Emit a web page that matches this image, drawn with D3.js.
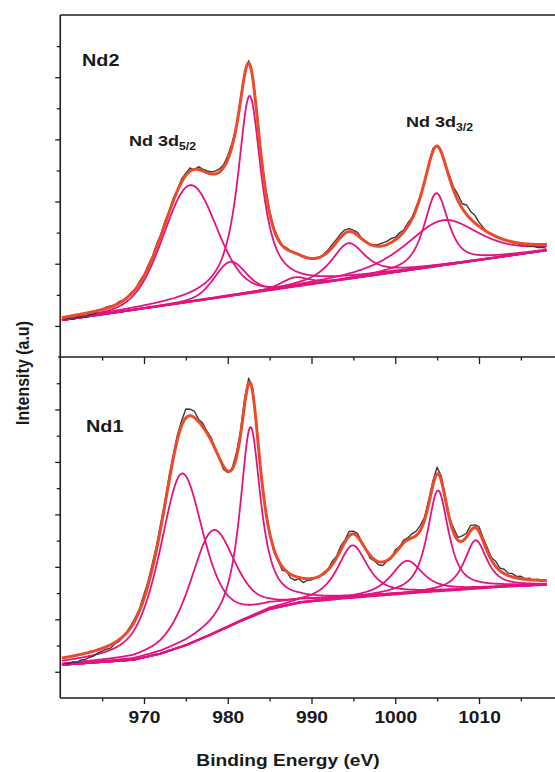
<!DOCTYPE html>
<html><head><meta charset="utf-8">
<script src="https://cdn.jsdelivr.net/npm/d3@7"></script>
<style>
html,body{margin:0;padding:0;background:#fff;}
svg{display:block;font-family:"Liberation Sans",Arial,sans-serif;}
</style></head><body>
<svg id="chart" width="555" height="772"></svg>
<script>
// Binding-energy axis
const energyDomain = [960, 1020];
const energyMajorTicks = [970, 980, 990, 1000, 1010];
const energyMinorTicks = [965, 975, 985, 995, 1005, 1015];
const fitSpan = [960.2, 1018.1];

// Measured spectra: first energy and step (eV), intensity (a.u.)
const rawStart = 960.5, rawStep = 0.5;
const nd2Raw = [
  0.20, 0.25, 0.21, 0.28, 0.30, 0.27, 0.36, 0.38, 0.47, 0.53,
  0.61, 0.64, 0.66, 0.78, 0.83, 0.93, 1.08, 1.17, 1.45, 1.64,
  1.96, 2.22, 2.63, 2.93, 3.37, 3.68, 4.11, 4.38, 4.73, 4.91,
  5.08, 5.01, 5.12, 5.04, 4.99, 4.95, 4.98, 5.05, 5.18, 5.47,
  5.87, 6.38, 7.27, 8.13, 8.53, 7.97, 6.85, 5.48, 4.45, 3.69,
  3.16, 2.84, 2.59, 2.52, 2.41, 2.35, 2.28, 2.21, 2.19, 2.15,
  2.20, 2.21, 2.32, 2.45, 2.63, 2.79, 2.97, 3.09, 3.13, 3.08,
  3.01, 2.81, 2.73, 2.61, 2.61, 2.62, 2.67, 2.72, 2.81, 2.85,
  2.99, 3.08, 3.31, 3.49, 3.83, 4.18, 4.67, 5.21, 5.71, 5.81,
  5.61, 5.21, 4.81, 4.44, 4.22, 3.93, 3.89, 3.68, 3.56, 3.33,
  3.17, 3.01, 2.97, 2.87, 2.84, 2.75, 2.73, 2.68, 2.65, 2.61,
  2.61, 2.56, 2.57, 2.52, 2.53, 2.50
];
const nd1Raw = [
  0.33, 0.30, 0.38, 0.36, 0.45, 0.47, 0.55, 0.60, 0.72, 0.79,
  0.86, 0.90, 1.06, 1.15, 1.33, 1.55, 1.80, 2.09, 2.44, 2.96,
  3.46, 4.13, 4.82, 5.66, 6.50, 7.46, 8.27, 9.05, 9.58, 10.02,
  10.01, 9.94, 9.63, 9.48, 9.18, 8.94, 8.51, 8.12, 7.71, 7.60,
  7.72, 8.31, 9.12, 10.40, 11.19, 10.78, 9.17, 7.52, 6.23, 5.29,
  4.58, 4.25, 3.87, 3.83, 3.58, 3.49, 3.55, 3.40, 3.48, 3.50,
  3.58, 3.63, 3.80, 3.92, 4.22, 4.41, 4.80, 5.03, 5.35, 5.36,
  5.27, 4.95, 4.66, 4.33, 4.23, 4.08, 4.05, 4.21, 4.31, 4.65,
  4.76, 5.02, 5.10, 5.26, 5.36, 5.58, 5.90, 6.56, 7.28, 7.80,
  7.45, 6.66, 5.84, 5.45, 5.12, 5.18, 5.28, 5.58, 5.60, 5.53,
  5.10, 4.73, 4.35, 4.21, 3.95, 3.91, 3.76, 3.74, 3.63, 3.64,
  3.55, 3.57, 3.48, 3.53, 3.45, 3.48
];

// Nd2 fit: peak centre (eV), height (a.u.), FWHM (eV), Lorentzian fraction
const nd2Centers = [975.5, 980.3, 982.6, 988.0, 994.4, 1004.9, 1005.7];
const nd2Heights = [3.75, 1.10, 6.35, 0.30, 1.15, 2.35, 1.45];
const nd2Fwhm    = [7.5, 4.5, 3.4, 4.0, 4.8, 3.4, 10.3];
const nd2Eta     = [0.15, 0.3, 0.9, 0.5, 0.8, 0.7, 0.6];
// Nd2 background (linear)
const nd2BgEnergy = [960.2, 1018.1];
const nd2BgLevel  = [0.18, 2.43];

// Nd1 fit
const nd1Centers = [974.5, 978.2, 982.7, 994.9, 1001.4, 1005.1, 1009.6];
const nd1Heights = [6.60, 3.95, 7.25, 2.00, 1.25, 3.85, 1.85];
const nd1Fwhm    = [6.2, 6.3, 3.0, 4.3, 4.5, 3.0, 3.2];
const nd1Eta     = [0.55, 0.5, 0.9, 0.8, 0.8, 0.8, 0.8];
// Nd1 background (Shirley-type step)
const nd1BgEnergy = [960.2, 968.7, 971.9, 975.1, 977.9, 981.5, 985.0, 988.6, 993.4, 998.2, 1003.0, 1007.7, 1012.5, 1018.1];
const nd1BgLevel  = [0.26, 0.45, 0.68, 1.02, 1.40, 1.92, 2.38, 2.63, 2.78, 2.90, 3.02, 3.12, 3.23, 3.31];

// Left-axis ticks (tick labels are not shown)
const nd2MajorTicks = [0, 2, 4, 6, 8];
const nd2MinorTicks = [1, 3, 5, 7, 9];
const nd1MajorTicks = [0, 2, 4, 6, 8, 10];
const nd1MinorTicks = [1, 3, 5, 7, 9, 11];

const COLOR_AXIS = "#1e1e1e", COLOR_RAW = "#3a3a3a", COLOR_FIT = "#ec4a2b", COLOR_COMP = "#e3137f";

const svg = d3.select("#chart");
const plotLeft = 60.25, plotTop = 15, plotMid = 357, plotBottom = 698, plotRight = 555;
const x = d3.scaleLinear().domain(energyDomain).range([plotLeft, 562.75]);

const panels = [
  { id: "nd2", y: d3.scaleLinear().domain([-1, 10]).range([plotMid, plotTop]), raw: nd2Raw,
    centers: nd2Centers, heights: nd2Heights, fwhm: nd2Fwhm, eta: nd2Eta,
    bg: d3.scaleLinear().domain(nd2BgEnergy).range(nd2BgLevel).clamp(true),
    major: nd2MajorTicks, minor: nd2MinorTicks, y0: plotTop, y1: plotMid },
  { id: "nd1", y: d3.scaleLinear().domain([-1, 12]).range([plotBottom, plotMid]), raw: nd1Raw,
    centers: nd1Centers, heights: nd1Heights, fwhm: nd1Fwhm, eta: nd1Eta,
    bg: d3.scaleLinear().domain(nd1BgEnergy).range(nd1BgLevel).clamp(true),
    major: nd1MajorTicks, minor: nd1MinorTicks, y0: plotMid, y1: plotBottom }
];

// pseudo-Voigt line shape
function pv(e, c, h, w, eta) {
  const t = (e - c) / w;
  return h * (eta / (1 + 4 * t * t) + (1 - eta) * Math.exp(-4 * Math.LN2 * t * t));
}

const grid = d3.range(fitSpan[0], fitSpan[1] + 1e-9, 0.1);

panels.forEach(p => {
  const clipId = "clip-" + p.id;
  svg.append("clipPath").attr("id", clipId)
    .append("rect").attr("x", plotLeft).attr("y", p.y0).attr("width", plotRight - plotLeft).attr("height", p.y1 - p.y0);
  const g = svg.append("g").attr("clip-path", `url(#${clipId})`);
  const line = d3.line().x(d => x(d[0])).y(d => p.y(d[1]));

  // fitted components sitting on the background
  p.centers.forEach((c, i) => {
    const pts = grid.map(e => [e, p.bg(e) + pv(e, c, p.heights[i], p.fwhm[i], p.eta[i])]);
    g.append("path").attr("d", line(pts)).attr("fill", "none")
      .attr("stroke", COLOR_COMP).attr("stroke-width", 1.8);
  });
  g.append("path").attr("d", line(grid.map(e => [e, p.bg(e)]))).attr("fill", "none")
    .attr("stroke", COLOR_COMP).attr("stroke-width", 1.8);

  // measured spectrum
  const rawPts = p.raw.map((v, i) => [rawStart + i * rawStep, v]);
  g.append("path").attr("d", line(rawPts)).attr("fill", "none")
    .attr("stroke", COLOR_RAW).attr("stroke-width", 1.4).attr("stroke-linejoin", "round");

  // envelope of the fit
  const env = grid.map(e => [e, p.bg(e) + d3.sum(p.centers, (c, i) => pv(e, c, p.heights[i], p.fwhm[i], p.eta[i]))]);
  g.append("path").attr("d", line(env)).attr("fill", "none")
    .attr("stroke", COLOR_FIT).attr("stroke-width", 3).attr("stroke-linejoin", "round");

  // left axis ticks
  const ax = svg.append("g").attr("transform", `translate(${plotLeft},0)`);
  ax.call(d3.axisLeft(p.y).tickValues(p.major).tickSize(5).tickFormat(""));
  ax.append("g").call(d3.axisLeft(p.y).tickValues(p.minor).tickSize(3.5).tickFormat(""));
  ax.selectAll(".domain").remove();
  ax.selectAll("line").attr("stroke", COLOR_AXIS).attr("stroke-width", 1.3);
});

// frame
const frame = svg.append("g").attr("stroke", COLOR_AXIS).attr("stroke-width", 1.6).attr("fill", "none");
frame.append("line").attr("x1", plotLeft).attr("x2", plotRight).attr("y1", plotTop).attr("y2", plotTop);
frame.append("line").attr("x1", plotLeft).attr("x2", plotLeft).attr("y1", plotTop).attr("y2", plotBottom);
frame.append("line").attr("x1", plotLeft - 2).attr("x2", plotRight).attr("y1", plotMid).attr("y2", plotMid);
frame.append("line").attr("x1", plotLeft).attr("x2", plotRight).attr("y1", plotBottom).attr("y2", plotBottom);

// ticks under the panel divider
[[energyMajorTicks, 7], [energyMinorTicks, 3.5]].forEach(([vals, len]) => {
  const a = svg.append("g").attr("transform", `translate(0,${plotMid})`)
    .call(d3.axisBottom(x).tickValues(vals).tickSize(len).tickFormat(""));
  a.select(".domain").remove();
  a.selectAll("line").attr("stroke", COLOR_AXIS).attr("stroke-width", 1.3);
});

// bottom energy axis
const xMinor = svg.append("g").attr("transform", `translate(0,${plotBottom})`)
  .call(d3.axisBottom(x).tickValues(energyMinorTicks).tickSize(3.5).tickFormat(""));
xMinor.select(".domain").remove();
xMinor.selectAll("line").attr("stroke", COLOR_AXIS).attr("stroke-width", 1.3);
const xAxis = svg.append("g").attr("transform", `translate(0,${plotBottom})`)
  .call(d3.axisBottom(x).tickValues(energyMajorTicks).tickSize(6).tickPadding(8).tickFormat(d3.format("d")));
xAxis.select(".domain").remove();
xAxis.selectAll("line").attr("stroke", COLOR_AXIS).attr("stroke-width", 1.3);
xAxis.selectAll("text").attr("font-family", "Liberation Sans, Arial, sans-serif")
  .attr("font-size", 16).attr("font-weight", "bold").attr("fill", "#1a1a1a")
  .attr("transform", "scale(1.2,1)");

// text labels
function label(tx, ty, size, parts) {
  const t = svg.append("text").attr("transform", `translate(${tx},${ty}) scale(1.2,1)`)
    .attr("font-size", size).attr("font-weight", "bold").attr("fill", "#1a1a1a");
  parts.forEach(([s, sub]) => {
    const ts = t.append("tspan").text(s);
    if (sub) ts.attr("font-size", size * 0.68).attr("dy", 4);
  });
  return t;
}
label(82, 66, 16.5, [["Nd2"]]);
label(86, 432, 16.5, [["Nd1"]]);
label(129, 146, 15, [["Nd 3d"], ["5/2", true]]);
label(406, 127, 15, [["Nd 3d"], ["3/2", true]]);

svg.append("text").attr("transform", "translate(29,373) rotate(-90) scale(1,1.2)")
  .attr("text-anchor", "middle").attr("font-size", 16).attr("font-weight", "bold").attr("fill", "#1a1a1a")
  .text("Intensity (a.u)");
svg.append("text").attr("transform", "translate(288,766) scale(1.2,1)")
  .attr("text-anchor", "middle").attr("font-size", 16).attr("font-weight", "bold").attr("fill", "#1a1a1a")
  .text("Binding Energy (eV)");
</script>
</body></html>
